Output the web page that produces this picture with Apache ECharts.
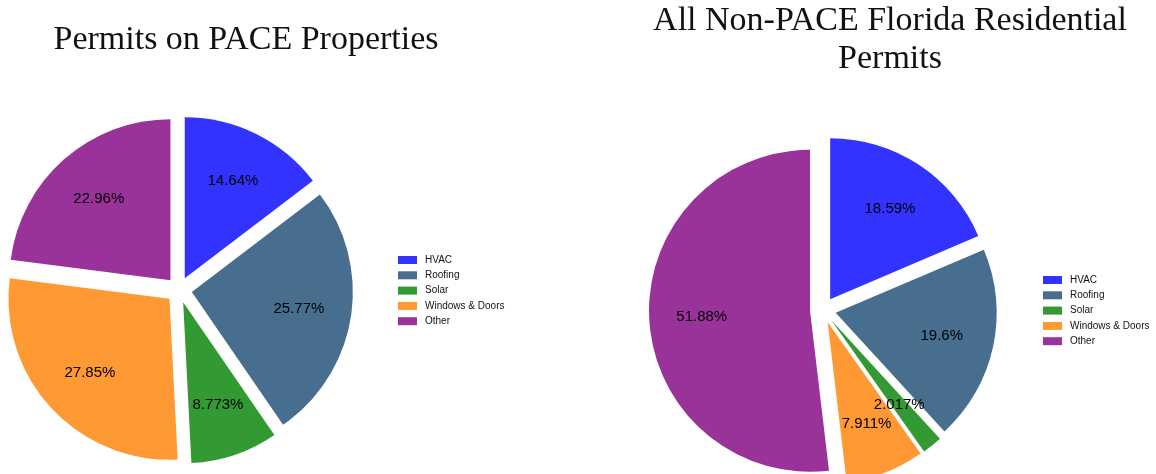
<!DOCTYPE html>
<html>
<head>
<meta charset="utf-8">
<script src="https://cdn.jsdelivr.net/npm/echarts@6/dist/echarts.min.js"></script>
<style>
  html, body { margin: 0; padding: 0; background: #fff; }
  #chart { width: 1156px; height: 474px; }
</style>
</head>
<body>
<div id="chart"></div>
<script>
const categories = ['HVAC', 'Roofing', 'Solar', 'Windows & Doors', 'Other'];
const colors = ['#3333ff', '#476d8f', '#339933', '#ff9933', '#993399'];
// share of permits, percent
const paceValues = [14.64, 25.77, 8.773, 27.85, 22.96];
const nonPaceValues = [18.59, 19.6, 2.017, 7.911, 51.88];

const titleLeft = 'Permits on PACE Properties';
const titleRight = 'All Non-PACE Florida Residential\nPermits';

const chart = echarts.init(document.getElementById('chart'));

const R = 161;
const OFFSET = 13;

function slices(values) {
  return categories.map((name, i) => ({
    name: name,
    value: values[i],
    selected: true,
    itemStyle: { color: colors[i] },
  }));
}

// the coloured wedges
function piePart(values, center) {
  return {
    type: 'pie',
    center: center,
    radius: [0, R],
    startAngle: 90,
    clockwise: true,
    selectedMode: 'multiple',
    selectedOffset: OFFSET,
    emphasis: { disabled: true },
    animation: false,
    label: { show: false },
    labelLine: { show: false },
    data: slices(values),
  };
}

// transparent ring only used to push the percent labels outward
function labelPart(values, center) {
  return {
    type: 'pie',
    center: center,
    radius: [R * 0.31, R],
    startAngle: 90,
    clockwise: true,
    selectedMode: 'multiple',
    selectedOffset: OFFSET,
    silent: true,
    animation: false,
    itemStyle: { color: 'rgba(0,0,0,0)' },
    label: {
      show: true,
      position: 'inside',
      formatter: '{c}%',
      color: '#000',
      fontFamily: 'Liberation Sans',
      fontSize: 15,
    },
    labelLine: { show: false },
    data: categories.map((name, i) => ({ name: name, value: values[i], selected: true })),
  };
}

function legendAt(left, top) {
  return {
    orient: 'vertical',
    left: left,
    top: top,
    itemWidth: 19,
    itemHeight: 8,
    itemGap: 3.3,
    icon: 'rect',
    selectedMode: false,
    data: categories,
    textStyle: {
      color: '#111',
      fontFamily: 'Liberation Sans',
      fontSize: 10,
      lineHeight: 12,
      padding: [0, 0, 0, 3],
    },
  };
}

const titleFont = {
  color: '#111',
  fontFamily: 'Liberation Serif',
  fontSize: 34,
  fontWeight: 'normal',
  lineHeight: 38,
};

const option = {
  backgroundColor: '#fff',
  title: [
    { text: titleLeft, left: 241, top: 16, textAlign: 'center', textStyle: titleFont },
    { text: titleRight, left: 885, top: -3, textAlign: 'center', textStyle: titleFont },
  ],
  legend: [legendAt(393, 249), legendAt(1038, 269)],
  series: [
    piePart(paceValues, [179, 290]),
    piePart(nonPaceValues, [823, 310]),
    labelPart(paceValues, [179, 290]),
    labelPart(nonPaceValues, [823, 310]),
  ],
};

chart.setOption(option);
</script>
</body>
</html>
